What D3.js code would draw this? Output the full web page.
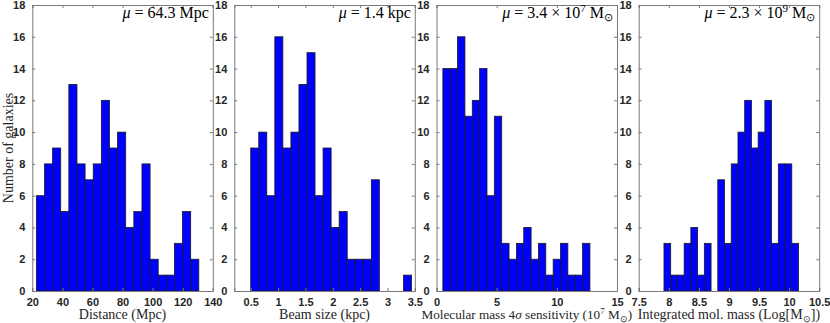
<!DOCTYPE html>
<html>
<head>
<meta charset="utf-8">
<script src="https://cdn.jsdelivr.net/npm/d3@7"></script>
<style>
  body { margin: 0; background: #fff; }
  svg { display: block; }
</style>
</head>
<body>
<script>
// histogram counts, 20 bins each
var distCounts = [6, 8, 9, 5, 13, 8, 7, 8, 12, 9, 10, 4, 5, 8, 2, 1, 1, 3, 5, 2];
var beamCounts = [9, 10, 6, 16, 9, 10, 13, 15, 6, 9, 4, 5, 2, 2, 2, 7, 0, 0, 0, 1];
var sensCounts = [14, 14, 16, 11, 12, 14, 6, 11, 3, 2, 3, 4, 2, 3, 1, 2, 3, 1, 1, 3];
var massCounts = [3, 1, 1, 3, 4, 1, 3, 0, 7, 3, 8, 10, 12, 9, 10, 12, 3, 8, 8, 3];

// first bin edge and bin width
var distBins = [22.7, 5.4];
var beamBins = [0.5, 0.147];
var sensBins = [0.53, 0.611];
var massBins = [7.92, 0.1118];

var distTicks = [20, 40, 60, 80, 100, 120, 140];
var beamTicks = [0.5, 1, 1.5, 2, 2.5, 3, 3.5];
var sensTicks = [0, 5, 10, 15];
var massTicks = [7.5, 8, 8.5, 9, 9.5, 10, 10.5];
var yTicks = [0, 2, 4, 6, 8, 10, 12, 14, 16, 18];

var sun = function (s) { return "<tspan dy='3' font-size='" + s + "px'>⊙</tspan>"; };

var panels = [
  { counts: distCounts, bins: distBins, domain: [20, 140], ticks: distTicks,
    label: "Distance (Mpc)", labelSize: 14,
    note: "<tspan font-style='italic'>μ</tspan> = 64.3 Mpc" },
  { counts: beamCounts, bins: beamBins, domain: [0.2, 3.5], ticks: beamTicks,
    label: "Beam size (kpc)", labelSize: 14,
    note: "<tspan font-style='italic'>μ</tspan> = 1.4 kpc" },
  { counts: sensCounts, bins: sensBins, domain: [0, 15], ticks: sensTicks,
    label: "Molecular mass 4<tspan font-style='italic'>σ</tspan> sensitivity (10<tspan dy='-5' font-size='9px'>7</tspan><tspan dy='5'> M</tspan>" + sun(9) + "<tspan dy='-3'>)</tspan>",
    labelSize: 13.2,
    note: "<tspan font-style='italic'>μ</tspan> = 3.4 × 10<tspan dy='-6' font-size='11px'>7</tspan><tspan dy='6'> M</tspan>" + sun(11) },
  { counts: massCounts, bins: massBins, domain: [7.5, 10.5], ticks: massTicks,
    label: "Integrated mol. mass (Log[M" + sun(9) + "<tspan dy='-3'>])</tspan>", labelSize: 14,
    note: "<tspan font-style='italic'>μ</tspan> = 2.3 × 10<tspan dy='-6' font-size='11px'>9</tspan><tspan dy='6'> M</tspan>" + sun(11) }
];

var W = 830, H = 323;
var plotTop = 5, plotBottom = 291, pw = 180.5;
var lefts = [32.3, 234.3, 436.5, 638.7];
var axisCol = "#7a7a7a", textCol = "#262626";
var serif = "'Liberation Serif', 'Times New Roman', serif";
var sans = "'Liberation Sans', Arial, Helvetica, sans-serif";

var svg = d3.select("body").append("svg")
    .attr("width", W)
    .attr("height", H);

var y = d3.scaleLinear().domain([0, 18]).range([plotBottom, plotTop]);

panels.forEach(function (p, k) {
    var x = d3.scaleLinear().domain(p.domain).range([0, pw]);
    var g = svg.append("g").attr("transform", "translate(" + lefts[k] + ",0)");

    var bars = p.counts.map(function (c, i) {
        return { x0: p.bins[0] + i * p.bins[1], x1: p.bins[0] + (i + 1) * p.bins[1], n: c };
    }).filter(function (d) { return d.n > 0; });

    g.selectAll("rect.bar").data(bars).enter().append("rect")
        .attr("class", "bar")
        .attr("x", function (d) { return x(d.x0); })
        .attr("y", function (d) { return y(d.n); })
        .attr("width", function (d) { return x(d.x1) - x(d.x0); })
        .attr("height", function (d) { return y(0) - y(d.n); })
        .attr("fill", "#0000ff")
        .attr("stroke", "#1a1a1a")
        .attr("stroke-width", 0.8);

    // axes, ticks inward on all four sides
    var xb = d3.axisBottom(x).tickValues(p.ticks).tickSize(-3).tickPadding(7).tickFormat(d3.format("~g"));
    var xt = d3.axisTop(x).tickValues(p.ticks).tickSize(-3).tickFormat("");
    var yl = d3.axisLeft(y).tickValues(yTicks).tickSize(-3).tickPadding(7);
    var yr = d3.axisRight(y).tickValues(yTicks).tickSize(-3).tickFormat("");

    g.append("g").attr("transform", "translate(0," + plotBottom + ")").call(xb);
    g.append("g").attr("transform", "translate(0," + plotTop + ")").call(xt);
    g.append("g").call(yl);
    g.append("g").attr("transform", "translate(" + pw + ",0)").call(yr);

    g.selectAll(".domain").attr("stroke", axisCol).attr("stroke-width", 1);
    g.selectAll(".tick line").attr("stroke", axisCol);
    g.selectAll(".tick text")
        .attr("font-family", sans)
        .attr("font-size", "11px")
        .attr("font-weight", "bold")
        .attr("fill", textCol);

    g.append("text")
        .attr("x", pw / 2)
        .attr("y", 319)
        .attr("text-anchor", "middle")
        .attr("font-family", serif)
        .attr("font-size", p.labelSize + "px")
        .attr("fill", textCol)
        .html(p.label);

    g.append("text")
        .attr("x", pw - 4)
        .attr("y", 18)
        .attr("text-anchor", "end")
        .attr("font-family", serif)
        .attr("font-size", "16px")
        .attr("fill", "#000")
        .html(p.note);
});

svg.append("text")
    .attr("transform", "translate(13," + (plotTop + plotBottom) / 2 + ") rotate(-90)")
    .attr("text-anchor", "middle")
    .attr("font-family", serif)
    .attr("font-size", "14px")
    .attr("fill", textCol)
    .text("Number of galaxies");
</script>
</body>
</html>
